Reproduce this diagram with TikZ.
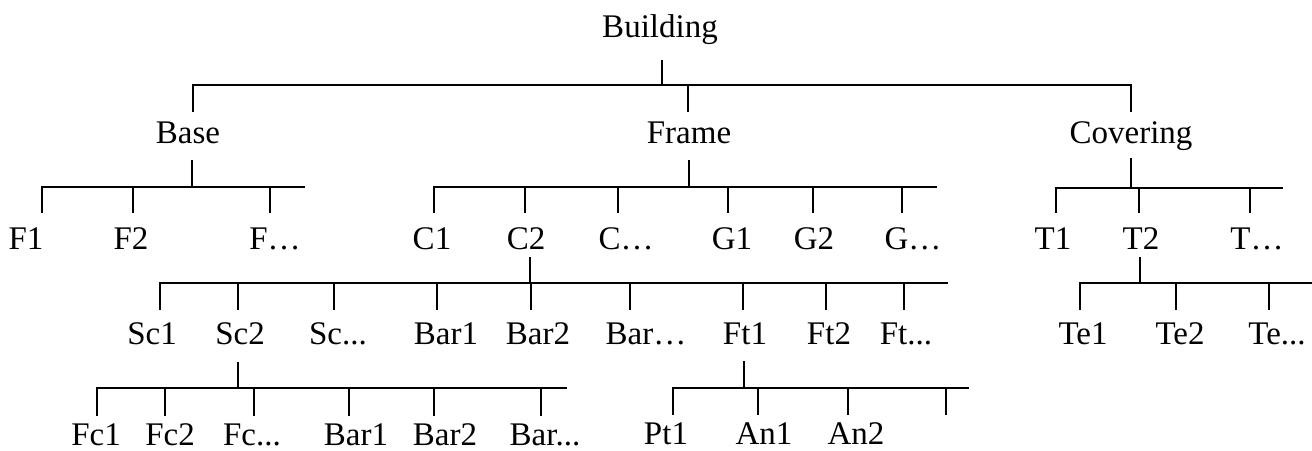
\documentclass[tikz,border=0pt]{standalone}
\usepackage{fontspec}
\setmainfont{Liberation Serif}
\usepackage{tikz}
\usepackage{xcolor}

\begin{document}
\begin{tikzpicture}[
    x=1pt, y=-1pt,
    part/.style={anchor=base, inner sep=0pt, font=\fontsize{33}{40}\selectfont},
    link/.style={line width=2.6pt, color=black}
]
\useasboundingbox (0,0) rectangle (1312,450);

% Top level
\node[part] (building) at (660,37) {Building};

% Main parts
\node[part] (base) at (188,143) {Base};
\node[part] (frame) at (689,143) {Frame};
\node[part] (covering) at (1131,143) {Covering};

% Second level
\node[part] (f1) at (26,249) {F1};
\node[part] (f2) at (131,249) {F2};
\node[part] (fdots) at (275,249) {F…};
\node[part] (c1) at (432,249) {C1};
\node[part] (c2) at (526,249) {C2};
\node[part] (cdots) at (626,249) {C…};
\node[part] (g1) at (732,249) {G1};
\node[part] (g2) at (814,249) {G2};
\node[part] (gdots) at (913,249) {G…};
\node[part] (t1) at (1053,249) {T1};
\node[part] (t2) at (1141,249) {T2};
\node[part] (tdots) at (1257,249) {T…};

% Third level
\node[part] (sc1) at (152,344) {Sc1};
\node[part] (sc2) at (240,344) {Sc2};
\node[part] (scdots) at (338,344) {Sc...};
\node[part] (bar1) at (446,344) {Bar1};
\node[part] (bar2) at (538,344) {Bar2};
\node[part] (bardots) at (646,344) {Bar…};
\node[part] (ft1) at (745,344) {Ft1};
\node[part] (ft2) at (829,344) {Ft2};
\node[part] (ftdots) at (906,344) {Ft...};
\node[part] (te1) at (1083,344) {Te1};
\node[part] (te2) at (1180,344) {Te2};
\node[part] (tedots) at (1277,344) {Te...};

% Fourth level
\node[part] (fc1) at (96,445) {Fc1};
\node[part] (fc2) at (170,445) {Fc2};
\node[part] (fcdots) at (252,445) {Fc...};
\node[part] (scbar1) at (356,445) {Bar1};
\node[part] (scbar2) at (445,445) {Bar2};
\node[part] (scbardots) at (545,445) {Bar...};
\node[part] (pt1) at (666,444) {Pt1};
\node[part] (an1) at (764,444) {An1};
\node[part] (an2) at (856,444) {An2};

% Junctions, stem tops and bar ends
\coordinate (building-s) at (662,60);   \coordinate (building-j) at (662,85);
\coordinate (base-s) at (192,160);      \coordinate (base-j) at (192,187);   \coordinate (base-e) at (305,187);
\coordinate (frame-s) at (689,160);     \coordinate (frame-j) at (689,187);  \coordinate (frame-e) at (937,187);
\coordinate (covering-s) at (1131,158); \coordinate (covering-j) at (1131,188); \coordinate (covering-e) at (1283,188);
\coordinate (c2-s) at (530,257);        \coordinate (c2-j) at (530,283);     \coordinate (c2-e) at (948,283);
\coordinate (t2-s) at (1140,257);       \coordinate (t2-j) at (1140,283);    \coordinate (t2-e) at (1312,283);
\coordinate (sc2-s) at (238,362);       \coordinate (sc2-j) at (238,388);    \coordinate (sc2-e) at (567,388);
\coordinate (ft1-s) at (744,361);       \coordinate (ft1-j) at (744,388);    \coordinate (ft1-e) at (969,388);

% Drop ends above each child
\foreach \n/\x in {base/193, frame/688, covering/1131}
    \coordinate (\n-d) at (\x,112);
\foreach \n/\x in {f1/42, f2/133, fdots/270, c1/434, c2/525, cdots/618, g1/728, g2/813, gdots/902, t1/1056, t2/1139, tdots/1250}
    \coordinate (\n-d) at (\x,213);
\foreach \n/\x in {sc1/160, sc2/238, scdots/334, bar1/437, bar2/531, bardots/630, ft1/743, ft2/826, ftdots/904, te1/1080, te2/1176, tedots/1269}
    \coordinate (\n-d) at (\x,310);
\foreach \n/\x in {fc1/97, fc2/165, fcdots/254, scbar1/349, scbar2/434, scbardots/541}
    \coordinate (\n-d) at (\x,416);
\foreach \n/\x in {pt1/673, an1/758, an2/848, ftmore/946}
    \coordinate (\n-d) at (\x,415);

% Stems and bar ends
\foreach \p in {building, base, frame, covering, c2, t2, sc2, ft1}
    \draw[link] (\p-s) -- (\p-j);
\foreach \p in {base, frame, covering, c2, t2, sc2, ft1}
    \draw[link] (\p-j) -- (\p-e);

% Branches
\foreach \n in {base, frame, covering}
    \draw[link] (\n-d) |- (building-j);
\foreach \n in {f1, f2, fdots}
    \draw[link] (\n-d) |- (base-j);
\foreach \n in {c1, c2, cdots, g1, g2, gdots}
    \draw[link] (\n-d) |- (frame-j);
\foreach \n in {t1, t2, tdots}
    \draw[link] (\n-d) |- (covering-j);
\foreach \n in {sc1, sc2, scdots, bar1, bar2, bardots, ft1, ft2, ftdots}
    \draw[link] (\n-d) |- (c2-j);
\foreach \n in {te1, te2, tedots}
    \draw[link] (\n-d) |- (t2-j);
\foreach \n in {fc1, fc2, fcdots, scbar1, scbar2, scbardots}
    \draw[link] (\n-d) |- (sc2-j);
\foreach \n in {pt1, an1, an2, ftmore}
    \draw[link] (\n-d) |- (ft1-j);

\end{tikzpicture}
\end{document}
